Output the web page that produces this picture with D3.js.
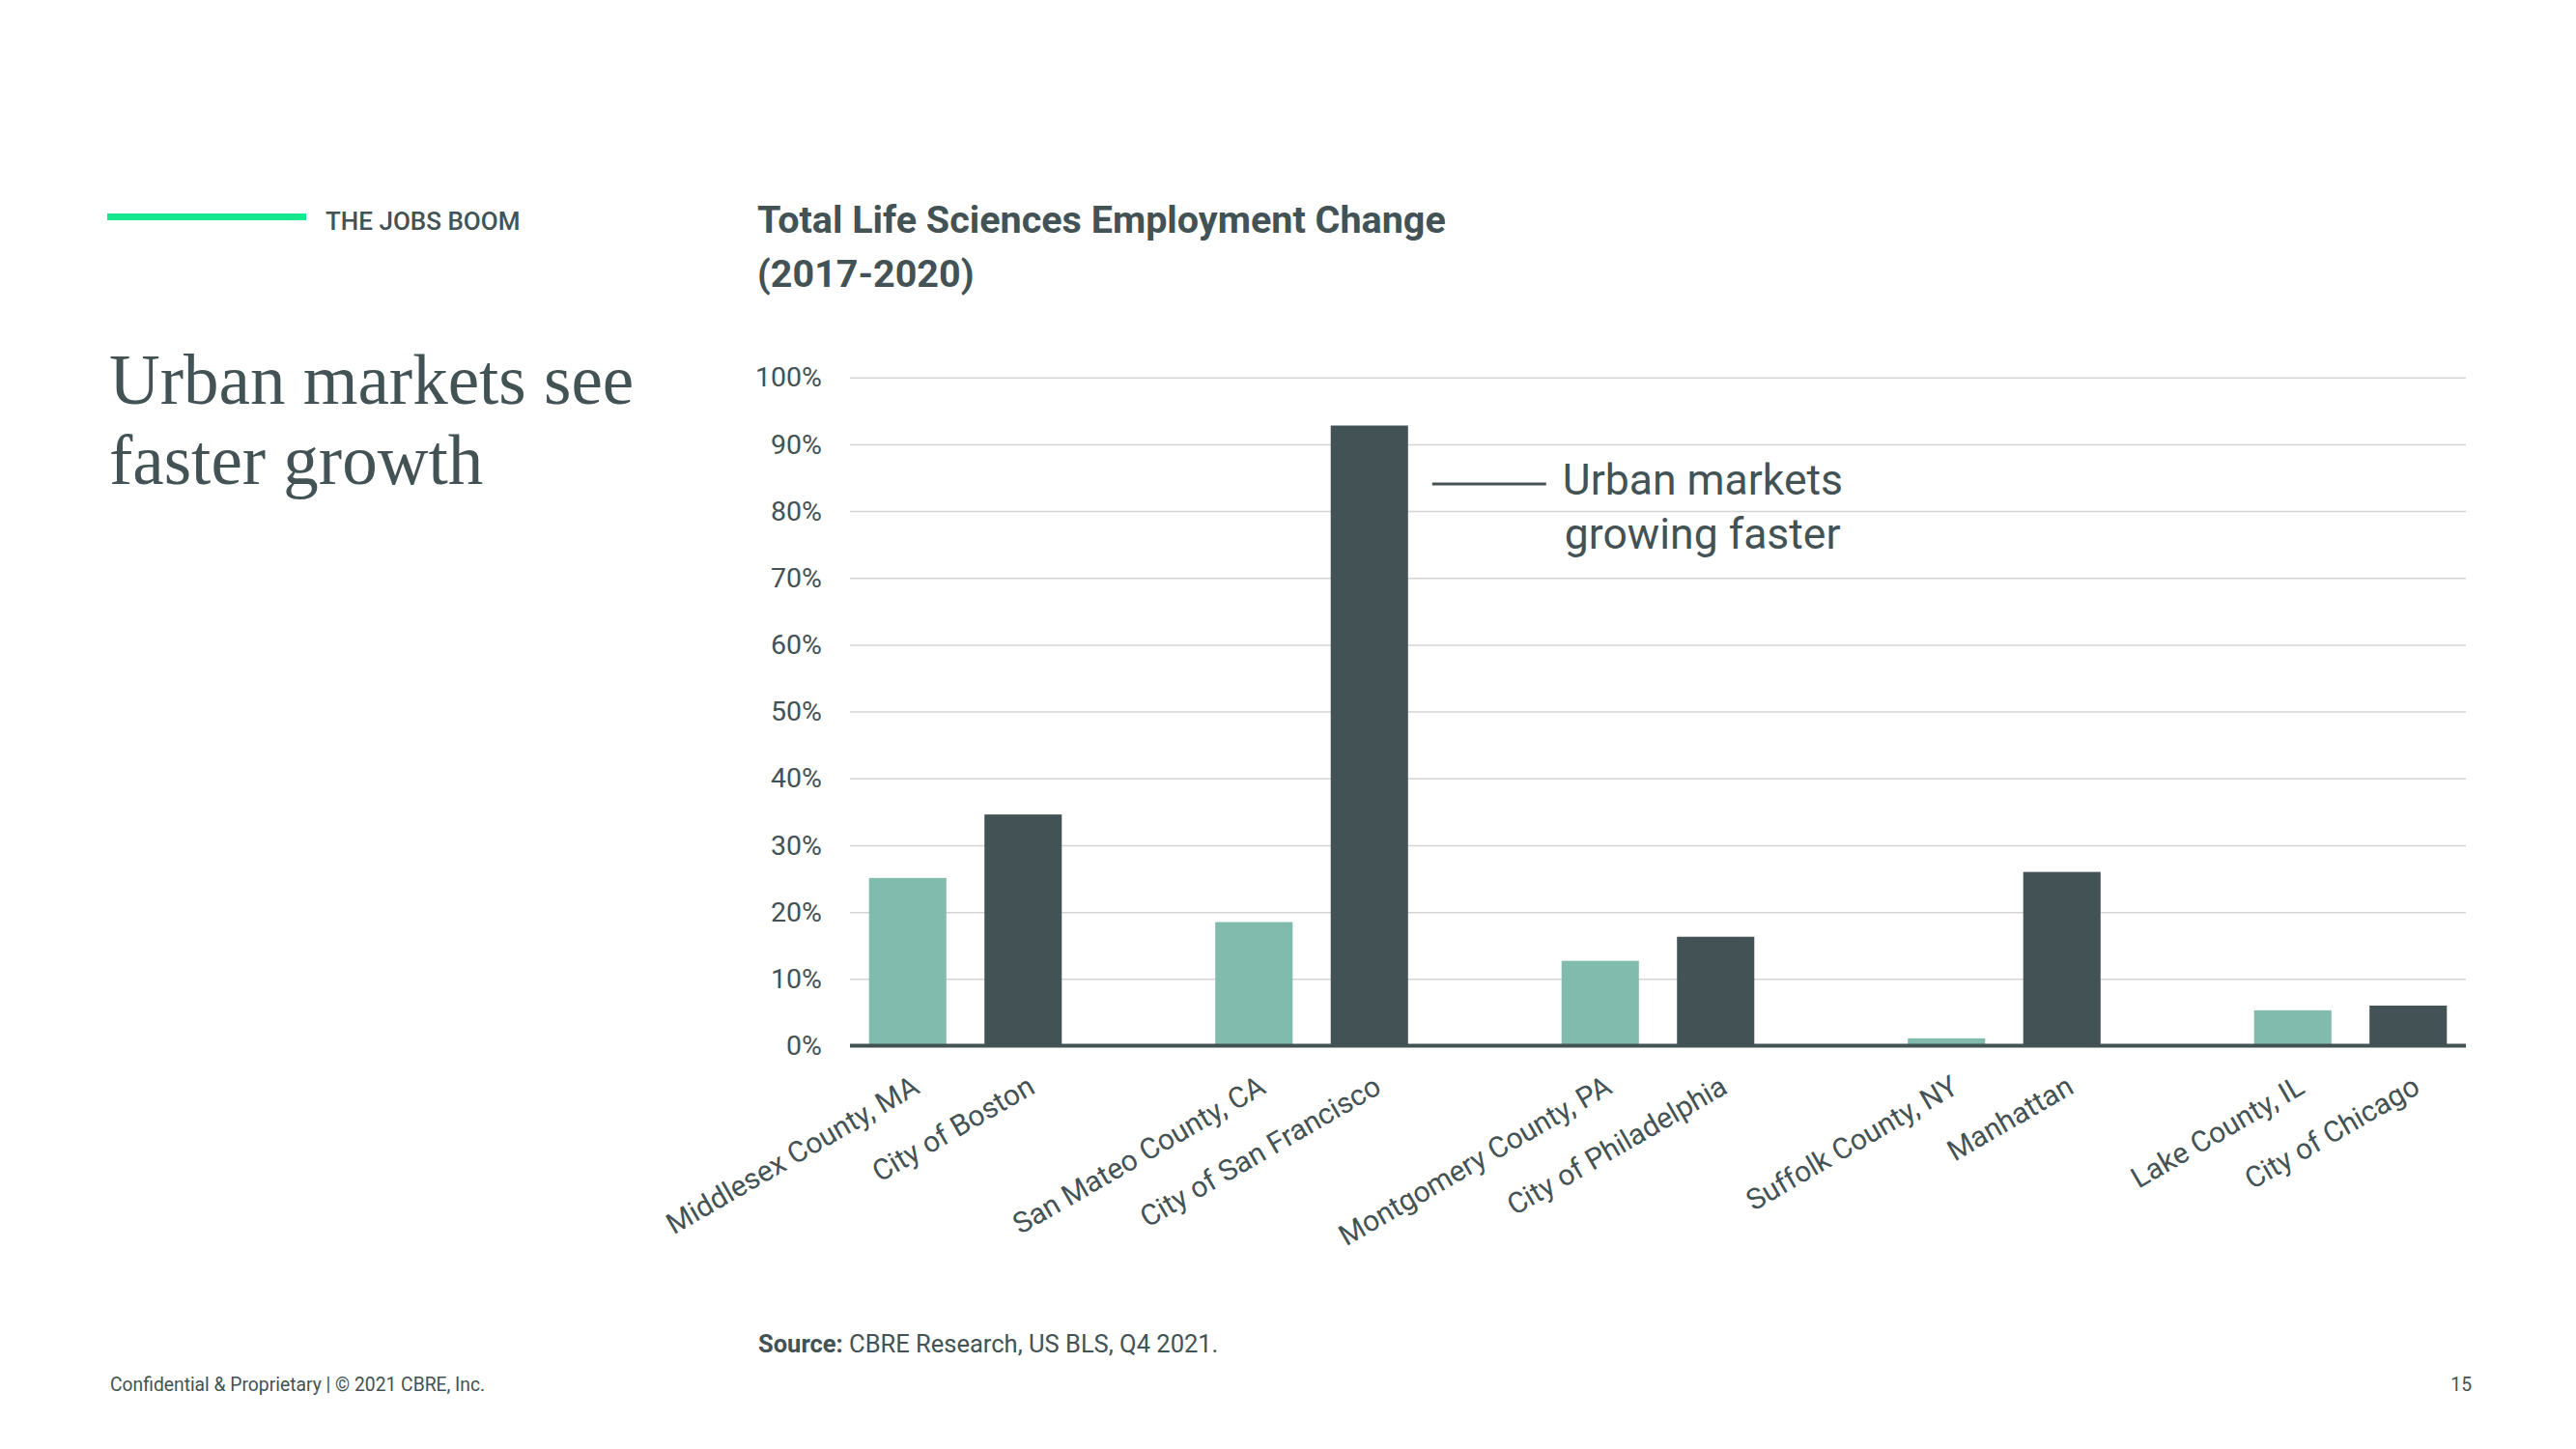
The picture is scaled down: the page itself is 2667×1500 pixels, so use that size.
<!DOCTYPE html>
<html>
<head>
<meta charset="utf-8">
<script src="https://cdn.jsdelivr.net/npm/d3@7"></script>
<style>
  body { margin: 0; background: #fff; }
  svg { display: block; }
  text { fill: #435254; font-family: Roboto, "Open Sans", sans-serif; }
</style>
</head>
<body>
<svg id="chart"></svg>
<script>
const width = 2667;
const height = 1500;

// data
const markets = ["Middlesex County, MA", "City of Boston",
  "San Mateo County, CA", "City of San Francisco",
  "Montgomery County, PA", "City of Philadelphia",
  "Suffolk County, NY", "Manhattan",
  "Lake County, IL", "City of Chicago"];
const marketType = ["suburban", "urban", "suburban", "urban", "suburban",
  "urban", "suburban", "urban", "suburban", "urban"];
const growth = [25.1, 34.6, 18.5, 92.8, 12.7, 16.3, 1.1, 26.0, 5.3, 6.0];
const yTicks = [0, 10, 20, 30, 40, 50, 60, 70, 80, 90, 100];

const colors = { suburban: "#80BBAD", urban: "#435254" };
const dark = "#435254";

// the chart leaves an empty slot between each pair of markets
var slots = [];
markets.forEach((m, i) => {
  slots.push(m);
  if (i % 2 == 1 && i < markets.length - 1) slots.push("gap" + i);
});

var svg = d3.select("#chart").attr("width", width).attr("height", height);

var x = d3.scaleBand().domain(slots).range([880, 2553])
  .paddingInner(0.33).paddingOuter(0.165);
var y = d3.scaleLinear().domain([0, 100]).range([1082.5, 390.7]);

// slide furniture
svg.append("rect").attr("x", 111).attr("y", 221).attr("width", 206).attr("height", 7)
  .attr("fill", "#17E88F");
svg.append("text").attr("x", 337).attr("y", 238)
  .style("font-size", "26px").style("font-weight", 500)
  .text("THE JOBS BOOM");

var head = svg.append("text").attr("x", 113).attr("y", 418)
  .style("font-family", "'Liberation Serif', 'DejaVu Serif', serif")
  .style("font-size", "73px");
head.append("tspan").attr("x", 113).text("Urban markets see");
head.append("tspan").attr("x", 113).attr("y", 501).text("faster growth");

var title = svg.append("text").attr("x", 784).attr("y", 241)
  .style("font-size", "39.5px").style("font-weight", 700);
title.append("tspan").attr("x", 784).text("Total Life Sciences Employment Change");
title.append("tspan").attr("x", 784).attr("y", 297).text("(2017-2020)");

// gridlines + y labels
var yAxis = d3.axisLeft(y).tickValues(yTicks).tickFormat(d => d + "%")
  .tickSize(-(2553 - 880)).tickPadding(29);
var gy = svg.append("g").attr("transform", "translate(880,0)").call(yAxis);
gy.select(".domain").remove();
gy.selectAll(".tick line").attr("stroke", "#d4d4d4").attr("stroke-width", 1.5);
gy.selectAll(".tick text").style("font-size", "28.5px").attr("fill", dark);

// bars
svg.selectAll("rect.bar")
  .data(markets)
  .enter()
  .append("rect")
  .attr("class", "bar")
  .attr("x", d => x(d))
  .attr("width", x.bandwidth())
  .attr("y", (d, i) => y(growth[i]))
  .attr("height", (d, i) => y(0) - y(growth[i]))
  .attr("fill", (d, i) => colors[marketType[i]]);

// baseline
svg.append("line").attr("x1", 880).attr("x2", 2553)
  .attr("y1", y(0)).attr("y2", y(0))
  .attr("stroke", dark).attr("stroke-width", 4);

// rotated category labels
svg.selectAll("text.cat")
  .data(markets)
  .enter()
  .append("text")
  .attr("class", "cat")
  .attr("text-anchor", "end")
  .attr("transform", d => `translate(${x(d) + x.bandwidth() / 2 + 14},${y(0) + 48}) rotate(-30)`)
  .style("font-size", "30px")
  .text(d => d);

// annotation
var sf = markets[3];
svg.append("line")
  .attr("x1", x(sf) + x.bandwidth() + 25).attr("x2", x(sf) + x.bandwidth() + 143)
  .attr("y1", 501).attr("y2", 501)
  .attr("stroke", dark).attr("stroke-width", 3);
var note = svg.append("text").attr("x", x(sf) + x.bandwidth() + 160).attr("y", 512)
  .style("font-size", "44.5px");
note.append("tspan").text("Urban markets");
note.append("tspan").attr("x", x(sf) + x.bandwidth() + 162).attr("y", 568).text("growing faster");

// source + footer
var src = svg.append("text").attr("x", 785).attr("y", 1400).style("font-size", "25.5px");
src.append("tspan").style("font-weight", 700).text("Source:");
src.append("tspan").text(" CBRE Research, US BLS, Q4 2021.");

svg.append("text").attr("x", 114).attr("y", 1440).style("font-size", "19.3px")
  .text("Confidential & Proprietary | © 2021 CBRE, Inc.");
svg.append("text").attr("x", 2559).attr("y", 1440).attr("text-anchor", "end")
  .style("font-size", "19.3px").text("15");
</script>
</body>
</html>
